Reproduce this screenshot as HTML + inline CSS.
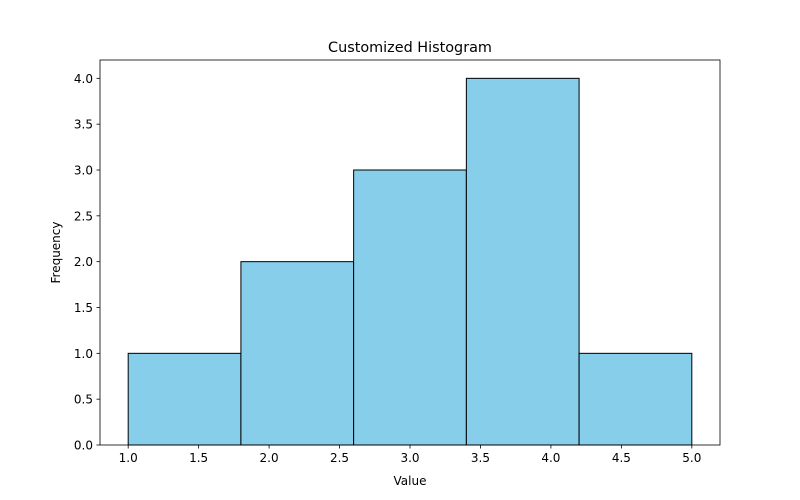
<!DOCTYPE html>
<html><head><meta charset="utf-8"><style>
html,body{margin:0;padding:0;background:#fff;width:800px;height:500px;overflow:hidden;}
svg{display:block;}
svg text{font-family:"DejaVu Sans","Liberation Sans",sans-serif;fill:#000;}
</style></head><body>
<svg id="chart" width="800" height="500" xmlns="http://www.w3.org/2000/svg">
<rect width="800" height="500" fill="#fff"/>
<text x="410" y="52" font-size="14.4" text-anchor="middle">Customized Histogram</text>
<g id="bars"></g>
<g id="xticks"></g>
<g id="yticks"></g>
<rect x="100" y="60" width="620" height="385" fill="none" stroke="#000" stroke-width="0.8"/>
<text x="410" y="485" font-size="12" text-anchor="middle">Value</text>
<text x="0" y="0" font-size="12" text-anchor="middle" transform="translate(60,252.5) rotate(-90)">Frequency</text>
</svg>
<script>
const binEdges=[1.0,1.8,2.6,3.4,4.2,5.0];
const counts=[1,2,3,4,1];
const xTickLabels=["1.0","1.5","2.0","2.5","3.0","3.5","4.0","4.5","5.0"];
const yTickLabels=["0.0","0.5","1.0","1.5","2.0","2.5","3.0","3.5","4.0"];
const NS="http://www.w3.org/2000/svg";
const L=100,R=720,T=60,B=445,x0=0.8,x1=5.2,y0=0,y1=4.2;
const sx=v=>L+(v-x0)/(x1-x0)*(R-L);
const sy=v=>B-(v-y0)/(y1-y0)*(B-T);
function mk(tag,attrs,parent){const e=document.createElementNS(NS,tag);for(const k in attrs)e.setAttribute(k,attrs[k]);parent.appendChild(e);return e;}
const bars=document.getElementById('bars');
counts.forEach((c,i)=>{
  const r=mk('rect',{x:sx(binEdges[i]),y:sy(c),width:sx(binEdges[i+1])-sx(binEdges[i]),height:sy(0)-sy(c),fill:'#87ceeb',stroke:'#000','stroke-width':1},bars);
  
  
});
const xt=document.getElementById('xticks');
xTickLabels.forEach(s=>{
  const v=parseFloat(s),x=sx(v);
  const l=mk('line',{x1:x,x2:x,y1:B,y2:B+3.5,stroke:'#000','stroke-width':0.8},xt);
  
  
  const t=mk('text',{x:x,y:B+17,'font-size':12,'text-anchor':'middle'},xt);t.textContent=s;
  
  
});
const yt=document.getElementById('yticks');
yTickLabels.forEach(s=>{
  const v=parseFloat(s),y=sy(v);
  const l=mk('line',{x1:L-3.5,x2:L,y1:y,y2:y,stroke:'#000','stroke-width':0.8},yt);
  
  
  const t=mk('text',{x:L-7,y:y+4.5,'font-size':12,'text-anchor':'end'},yt);t.textContent=s;
  
  
});
</script>
</body></html>
